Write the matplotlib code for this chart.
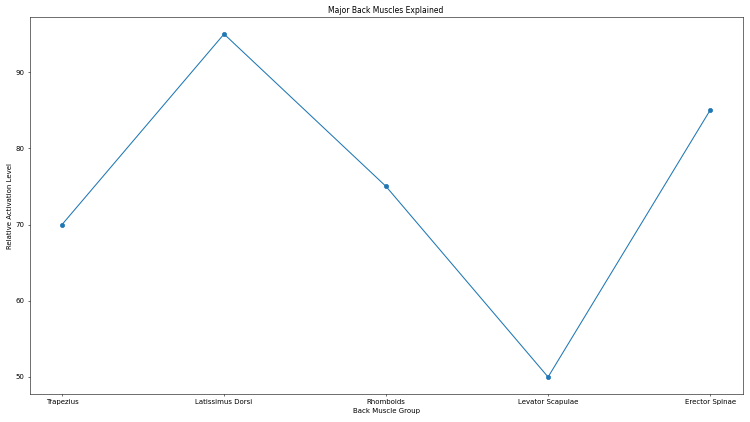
import matplotlib
matplotlib.use("Agg")
import matplotlib.pyplot as plt

muscles = ["Trapezius", "Latissimus Dorsi", "Rhomboids", "Levator Scapulae", "Erector Spinae"]
activation = [70, 95, 75, 50, 85]

fig, ax = plt.subplots(figsize=(15, 8.44), dpi=50)
ax.plot(muscles, activation, marker="o", markersize=6, color="#1f77b4", linewidth=1.5)
ax.set_title("Major Back Muscles Explained", fontsize=11)
ax.set_xlabel("Back Muscle Group", fontsize=10)
ax.set_ylabel("Relative Activation Level", fontsize=10)
ax.tick_params(labelsize=10)
fig.subplots_adjust(left=0.0395, right=0.990, top=0.960, bottom=0.066)
fig.savefig("out.png", dpi=50)
